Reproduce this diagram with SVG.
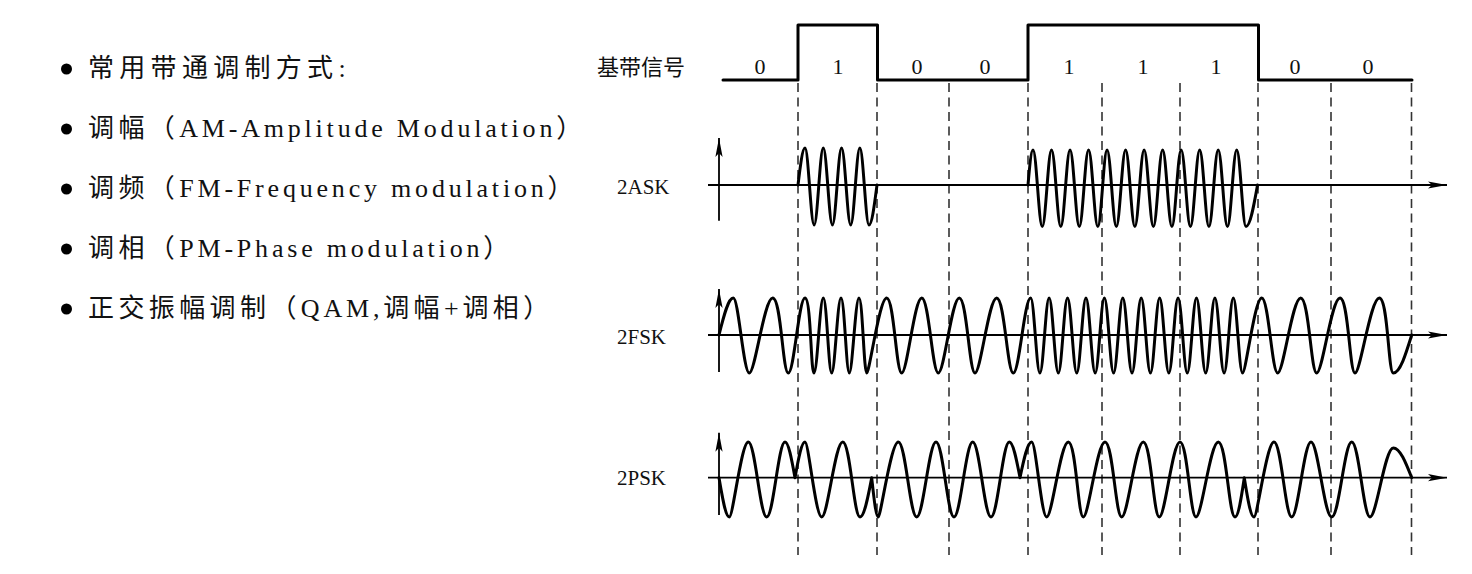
<svg xmlns="http://www.w3.org/2000/svg" width="1472" height="574" viewBox="0 0 1472 574">
<style>
.wave{fill:none;stroke:#000;stroke-width:3;stroke-linejoin:round;stroke-linecap:round}
.axis{fill:none;stroke:#000;stroke-width:1.8}
.dash{stroke:#333;stroke-width:1.6;stroke-dasharray:9 5.5}
.lbl{font-family:"Liberation Serif",serif;font-size:21px;fill:#111}
.bit{font-family:"Liberation Serif",serif;font-size:22px;fill:#111;text-anchor:middle}
.li{font-size:26px;fill:#111}
.zh{font-family:"Noto Sans CJK SC",sans-serif;letter-spacing:4.4px}
.en{font-family:"Liberation Serif",serif;letter-spacing:3.8px}
.cjk{font-family:"Noto Sans CJK SC",sans-serif;font-size:22px;fill:#111}
</style>
<defs>
<marker id="arr" viewBox="-20 -5 22 10" refX="0" refY="0" markerWidth="22" markerHeight="10" markerUnits="userSpaceOnUse" orient="auto">
<path d="M0,0 L-19,-3.6 L-15,0 L-19,3.6 Z" fill="#000"/>
</marker>
</defs>
<rect width="1472" height="574" fill="#fff"/>

<g id="list">
<circle cx="66.5" cy="69" r="5.5"/>
<text class="li" x="88" y="77"><tspan class="zh" style="letter-spacing:5.3px">常用带通调制方式</tspan><tspan class="en">:</tspan></text>
<circle cx="66.5" cy="129" r="5.5"/>
<text class="li" x="88" y="137"><tspan class="zh">调幅（</tspan><tspan class="en">AM-Amplitude Modulation</tspan><tspan class="zh">）</tspan></text>
<circle cx="66.5" cy="189" r="5.5"/>
<text class="li" x="88" y="197"><tspan class="zh">调频（</tspan><tspan class="en">FM-Frequency modulation</tspan><tspan class="zh">）</tspan></text>
<circle cx="66.5" cy="249" r="5.5"/>
<text class="li" x="88" y="257"><tspan class="zh">调相（</tspan><tspan class="en">PM-Phase modulation</tspan><tspan class="zh">）</tspan></text>
<circle cx="66.5" cy="309" r="5.5"/>
<text class="li" x="88" y="317"><tspan class="zh">正交振幅调制（</tspan><tspan class="en">QAM,</tspan><tspan class="zh">调幅</tspan><tspan class="en">+</tspan><tspan class="zh">调相）</tspan></text>
</g>

<g id="grid">
<line class="dash" x1="798" y1="83" x2="798" y2="555"/>
<line class="dash" x1="877" y1="83" x2="877" y2="555"/>
<line class="dash" x1="949" y1="83" x2="949" y2="555"/>
<line class="dash" x1="1028" y1="83" x2="1028" y2="555"/>
<line class="dash" x1="1102" y1="83" x2="1102" y2="555"/>
<line class="dash" x1="1180" y1="83" x2="1180" y2="555"/>
<line class="dash" x1="1258" y1="83" x2="1258" y2="555"/>
<line class="dash" x1="1331" y1="83" x2="1331" y2="555"/>
<line class="dash" x1="1411.5" y1="83" x2="1411.5" y2="555"/>
</g>

<g id="baseband">
<text class="cjk" x="597" y="75">基带信号</text>
<path class="wave" stroke-linecap="butt" stroke-linejoin="miter" d="M723,80 H798 V25 H877.5 V80 H1028 V25 H1258.5 V80 H1412"/>
<text class="bit" x="760" y="74">0</text>
<text class="bit" x="838" y="74">1</text>
<text class="bit" x="917" y="74">0</text>
<text class="bit" x="985" y="74">0</text>
<text class="bit" x="1069" y="74">1</text>
<text class="bit" x="1143" y="74">1</text>
<text class="bit" x="1216" y="74">1</text>
<text class="bit" x="1295" y="74">0</text>
<text class="bit" x="1368" y="74">0</text>
</g>

<g id="ask">
<text class="lbl" x="617" y="194">2ASK</text>
<line class="axis" x1="708" y1="185" x2="1447" y2="185" marker-end="url(#arr)"/>
<line class="axis" x1="719" y1="220.7" x2="719" y2="138" marker-end="url(#arr)"/>
<path class="wave" d="M798,185 C800.3,166 802.5,148 805,148 c3.32,0 5.82,77 9.14,77 s5.82,-77 9.14,-77 s5.82,77 9.14,77 s5.82,-77 9.14,-77 s5.82,77 9.14,77 s5.82,-77 9.14,-77 s5.82,77 9.14,77 C871.9,225 874.4,205 877,185"/>
<path class="wave" d="M1028,185 C1029.6,167 1031.2,150 1033,150 c3.37,0 5.89,76.5 9.26,76.5 s5.89,-76.5 9.26,-76.5 s5.89,76.5 9.26,76.5 s5.89,-76.5 9.26,-76.5 s5.89,76.5 9.26,76.5 s5.89,-76.5 9.26,-76.5 s5.89,76.5 9.26,76.5 s5.89,-76.5 9.26,-76.5 s5.89,76.5 9.26,76.5 s5.89,-76.5 9.26,-76.5 s5.89,76.5 9.26,76.5 s5.89,-76.5 9.26,-76.5 s5.89,76.5 9.26,76.5 s5.89,-76.5 9.26,-76.5 s5.89,76.5 9.26,76.5 s5.89,-76.5 9.26,-76.5 s5.89,76.5 9.26,76.5 s5.89,-76.5 9.26,-76.5 s5.89,76.5 9.26,76.5 s5.89,-76.5 9.26,-76.5 s5.89,76.5 9.26,76.5 s5.89,-76.5 9.26,-76.5 s5.89,76.5 9.26,76.5 C1250.2,226.5 1253.8,206 1257.5,185"/>
</g>

<g id="fsk">
<text class="lbl" x="617" y="344">2FSK</text>
<line class="axis" x1="708" y1="335" x2="1447" y2="335" marker-end="url(#arr)"/>
<line class="axis" x1="719" y1="372" x2="719" y2="289" marker-end="url(#arr)"/>
<path class="wave" d="M719,335 C723.7,316 728.1,298 733.3,298 S743.5,373 749.3,373 S764.2,298 772.7,298 S782.6,373 788.3,373 S798.9,298 805,298 S810.7,373 814,373 S819.9,298 823.3,298 S828.6,373 831.7,373 S837.6,298 841,298 S846.3,373 849.3,373 S855.5,298 859,298 S863.9,373 866.7,373 S879.4,298 886.7,298 S896.2,373 901.7,373 S914.4,298 921.7,298 S932.3,373 938.3,373 S951.7,298 959.3,298 S969.3,373 975,373 S988.8,298 996.7,298 S1007.3,373 1013.3,373 S1024.4,298 1030.7,298 c3.35,0 5.86,75 9.21,75 s5.86,-75 9.21,-75 s5.86,75 9.21,75 s5.86,-75 9.21,-75 s5.86,75 9.21,75 s5.86,-75 9.21,-75 s5.86,75 9.21,75 s5.86,-75 9.21,-75 s5.86,75 9.21,75 s5.86,-75 9.21,-75 s5.86,75 9.21,75 s5.86,-75 9.21,-75 s5.86,75 9.21,75 s5.86,-75 9.21,-75 s5.86,75 9.21,75 s5.86,-75 9.21,-75 s5.86,75 9.21,75 s5.86,-75 9.21,-75 s5.86,75 9.21,75 s5.86,-75 9.21,-75 s5.86,75 9.21,75 s5.86,-75 9.21,-75 s5.86,75 9.21,75 S1254.7,298 1261.7,298 S1271.9,373 1277.7,373 S1292.3,298 1300.7,298 S1310.9,373 1316.7,373 S1331.5,298 1340,298 S1349.6,373 1355,373 S1370.5,298 1379.3,298 S1388.2,373 1393.3,373 C1400,373 1405.7,354.5 1411.7,335"/>
</g>

<g id="psk">
<text class="lbl" x="617" y="485">2PSK</text>
<line class="axis" x1="708" y1="477.7" x2="1447" y2="477.7" marker-end="url(#arr)"/>
<line class="axis" x1="719" y1="515" x2="719" y2="432.7" marker-end="url(#arr)"/>
<path class="wave" d="M719,477.7 C722.4,497.7 725.6,517 729.3,517 S741.4,442 748.3,442 S760,517 766.7,517 S778.4,442 785,442 C788.6,442 791.7,459.4 795,477.7 C798.3,459.4 801.4,442 805,442 S815.6,517 821.7,517 S835.1,442 842.7,442 S853.7,517 860,517 C864.2,517 867.9,497.8 871.7,477.7 C873.9,497.8 875.9,517 878.3,517 S891,442 898.3,442 S910,517 916.7,517 S929,442 936,442 S947.5,517 954,517 S965.9,442 972.7,442 S984.3,517 991,517 S1002.7,442 1009.3,442 C1013.2,442 1016.5,459.4 1020,477.7 C1023.8,459.4 1027.5,442 1031.7,442 S1041.3,517 1046.7,517 S1060.5,442 1068.3,442 S1077.9,517 1083.3,517 S1097.1,442 1105,442 S1115.6,517 1121.7,517 S1135.5,442 1143.3,442 S1153.5,517 1159.3,517 S1172.5,442 1180,442 S1190.2,517 1196,517 S1210.2,442 1218.3,442 S1228.9,517 1235,517 C1238.4,517 1241.3,497.8 1244.3,477.7 C1247.5,497.8 1250.5,517 1254,517 S1266.7,442 1274,442 S1285.3,517 1291.7,517 S1304,442 1311,442 S1324.2,517 1331.7,517 S1344.4,442 1351.7,442 S1363.4,517 1370,517 S1384.8,448 1393.3,448 C1400,448 1405.7,462.5 1411.7,477.7"/>
</g>
</svg>
